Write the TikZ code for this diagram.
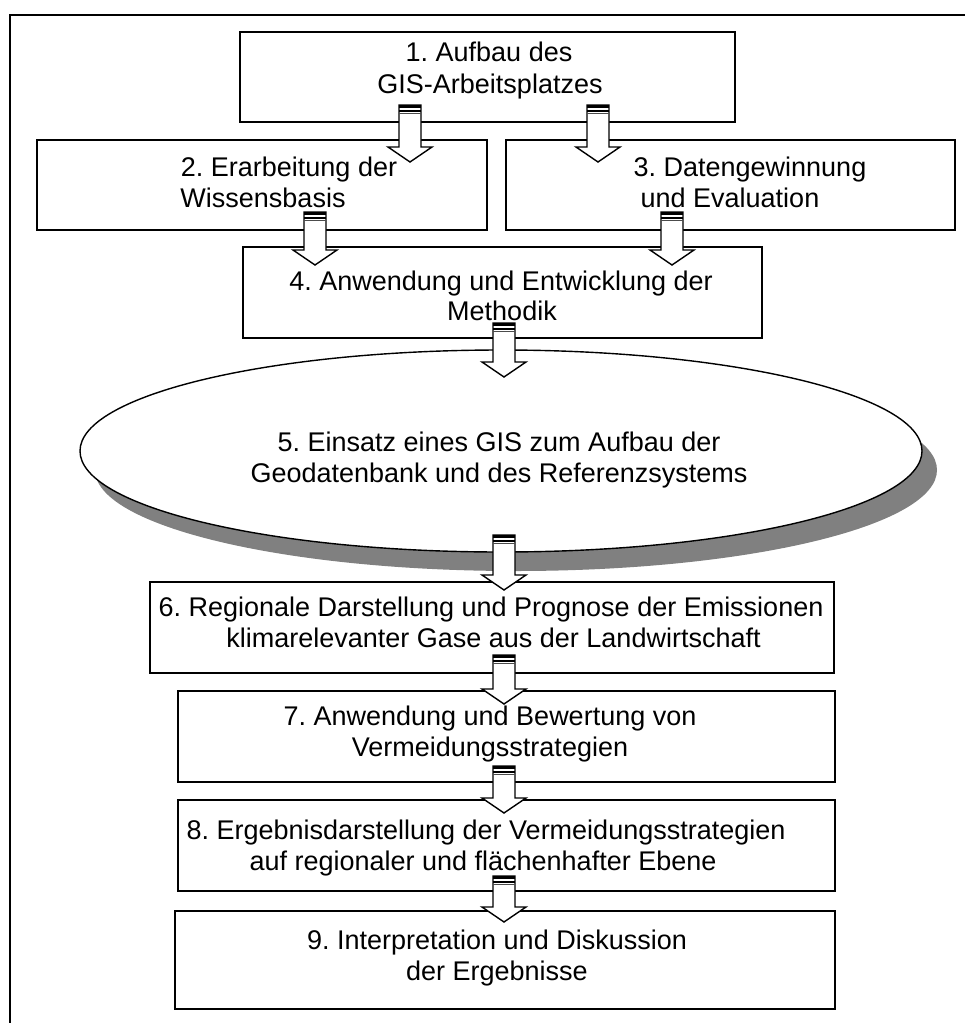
\documentclass[tikz,border=0pt]{standalone}
\usepackage{fontspec}
\setmainfont{Liberation Sans}
\usetikzlibrary{shapes.geometric}
\definecolor{shadowgray}{HTML}{808080}
\tikzset{
  box/.style={draw, line width=1.5pt, fill=white, inner sep=0pt, outer sep=0pt, rectangle},
  txt/.style={anchor=base, inner sep=0pt, font=\fontsize{27}{32}\selectfont\frenchspacing},
}
% hollow block arrow with a striped tail: #1 = x, #2 = top of tail, #3 = tip
\newcommand{\stripedarrow}[3]{%
  \filldraw[fill=white, draw=black, line width=1.4pt, line join=miter]
    (#1-11,#2) -- (#1-11,#3-15) -- (#1-22,#3-15) -- (#1,#3) -- (#1+22,#3-15)
    -- (#1+11,#3-15) -- (#1+11,#2) -- cycle;
  \fill (#1-11,#2) rectangle (#1+11,#2+2.5);
  \fill (#1-11,#2+4.5) rectangle (#1+11,#2+6.5);
  \draw[line width=0.6pt, black!70] (#1-11,#2+8.5) -- (#1+11,#2+8.5);
}
\begin{document}
\begin{tikzpicture}[x=1pt, y=-1pt]
\useasboundingbox (0,0) rectangle (965,1023);
% frame
\draw[line width=1.6pt] (10,1023) -- (10,15) -- (965,15);

% boxes
\node[box, minimum width=495pt, minimum height=90pt] (b1) at (487.5,77) {};
\node[box, minimum width=450pt, minimum height=90pt] (b2) at (262,185) {};
\node[box, minimum width=449pt, minimum height=90pt] (b3) at (730.5,185) {};
\node[box, minimum width=519pt, minimum height=91pt] (b4) at (502.5,292.5) {};

% ellipse with shadow
\node[ellipse, fill=shadowgray, inner sep=0pt, minimum width=842pt, minimum height=202pt] (e5s) at (516,470) {};
\node[ellipse, draw, line width=1.4pt, fill=white, inner sep=0pt, minimum width=842pt, minimum height=202pt] (e5) at (501,451) {};

\node[box, minimum width=684pt, minimum height=91pt] (b6) at (492,627.5) {};
\node[box, minimum width=657pt, minimum height=91pt] (b7) at (506.5,736.5) {};
\node[box, minimum width=657pt, minimum height=91pt] (b8) at (506.5,845.5) {};
\node[box, minimum width=660pt, minimum height=98pt] (b9) at (505,960) {};

% texts
\node[txt] (t1a) at (489,61) {1. Aufbau des};
\node[txt] (t1b) at (490,93) {GIS-Arbeitsplatzes};
\node[txt] (t2a) at (289,176) {2. Erarbeitung der};
\node[txt] (t2b) at (263,207) {Wissensbasis};
\node[txt] (t3a) at (750,176) {3. Datengewinnung};
\node[txt] (t3b) at (730,207) {und Evaluation};
\node[txt] (t4a) at (501,290) {4. Anwendung und Entwicklung der};
\node[txt] (t4b) at (502,320) {Methodik};
\node[txt] (t5a) at (499,451) {5. Einsatz eines GIS zum Aufbau der};
\node[txt] (t5b) at (499,482) {Geodatenbank und des Referenzsystems};
\node[txt] (t6a) at (491,616) {6. Regionale Darstellung und Prognose der Emissionen};
\node[txt] (t6b) at (493.5,647) {klimarelevanter Gase aus der Landwirtschaft};
\node[txt] (t7a) at (490,725) {7. Anwendung und Bewertung von};
\node[txt] (t7b) at (490,756) {Vermeidungsstrategien};
\node[txt] (t8a) at (486,839) {8. Ergebnisdarstellung der Vermeidungsstrategien};
\node[txt] (t8b) at (483,870) {auf regionaler und flächenhafter Ebene};
\node[txt] (t9a) at (497,949) {9. Interpretation und Diskussion};
\node[txt] (t9b) at (497,980) {der Ergebnisse};

% arrows between the steps
\stripedarrow{410}{105}{162}
\stripedarrow{598}{105}{162}
\stripedarrow{315}{212}{265}
\stripedarrow{672}{212}{265}
\stripedarrow{504}{323}{377}
\stripedarrow{504}{535}{590}
\stripedarrow{504}{655}{704}
\stripedarrow{504}{766}{813}
\stripedarrow{504}{876}{922}
\end{tikzpicture}
\end{document}
